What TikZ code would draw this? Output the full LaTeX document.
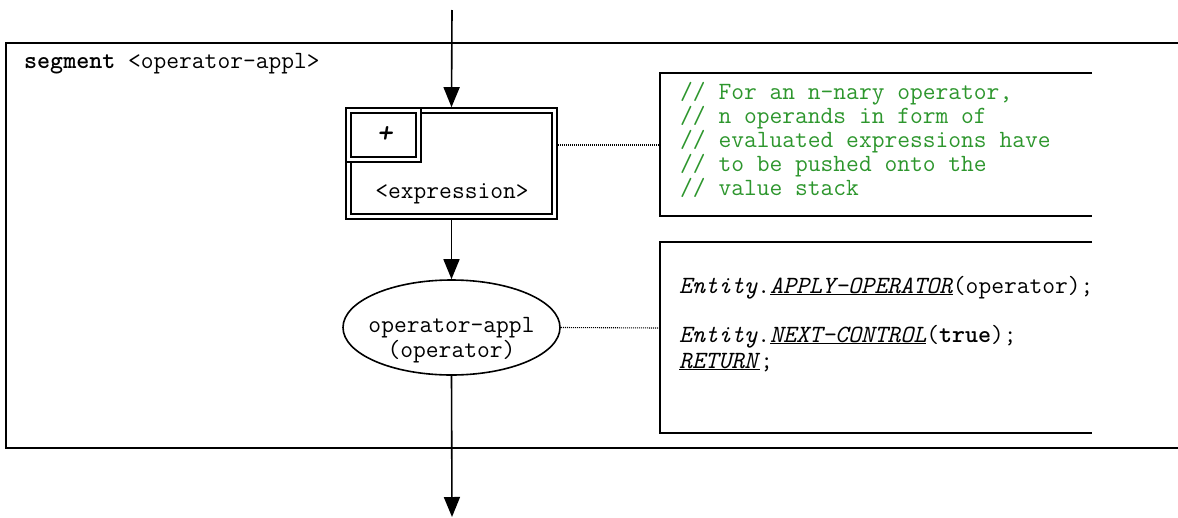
\documentclass[tikz,border=0pt]{standalone}
\usepackage{fontspec}
\usetikzlibrary{arrows.meta,shapes.geometric}
\definecolor{cmtgreen}{RGB}{45,150,45}
\begin{document}
\begin{tikzpicture}[x=1pt,y=-1pt,
  every node/.style={font=\ttfamily\fontsize{24.8}{24.8}\selectfont},
  frame/.style={line width=1.6pt},
  flow/.style={line width=1.6pt,-{Triangle[length=20pt,width=16pt]}},
  dbl/.style={draw,rectangle,double,double distance=3pt,line width=1.8pt,inner sep=0pt,outer sep=3.3pt},
  note/.style={line width=1.1pt,dash pattern=on 1pt off 1pt},
  txt/.style={inner sep=0pt,anchor=base west},
  mid/.style={inner sep=0pt,anchor=base},
  cmt/.style={txt,text=cmtgreen}]
\useasboundingbox (0,0) rectangle (1178,517);
% frame
\draw[frame] (1178,43) -- (6,43) -- (6,448) -- (1178,448);
\node[txt] (seg) at (24,68) {\textbf{segment} <operator-appl>};
% expression box
\node[dbl,minimum width=206pt,minimum height=106pt] (exp) at (451.5,163.5) {};
\node[dbl,minimum width=70.4pt,minimum height=49.4pt] (plus) at (383.5,135) {};
\node[mid] (plustxt) at (385,142) {\fontsize{30}{30}\selectfont\textbf{\textit{+}}};
\node[mid] (exptxt) at (452,198) {<expression>};
% ellipse
\node[draw,ellipse,line width=1.6pt,minimum width=217pt,minimum height=95pt,inner sep=0pt] (op) at (451.5,327.5) {};
\node[mid] (optxt1) at (451.5,332) {operator-appl};
\node[mid] (optxt2) at (451.5,357) {(operator)};
% flow arrows
\coordinate (top) at (452,10);
\coordinate (bot) at (452,517);
\draw[flow] (top) -- (exp.north);
\draw[flow] (exp.south) -- (op.north);
\draw[flow] (op.south) -- (bot);
% comment boxes
\draw[frame] (1092,73) -- (660,73) -- (660,216) -- (1092,216);
\coordinate (c1) at (660,145);
\draw[frame] (1092,242) -- (660,242) -- (660,433) -- (1092,433);
\coordinate (c2) at (660,328);
\draw[note] (exp.east |- c1) -- (c1);
\draw[note] (op.east) -- (c2);
\node[cmt] (l1) at (680,99) {// For an n-nary operator,};
\node[cmt] (l2) at (680,123) {// n operands in form of};
\node[cmt] (l3) at (680,147) {// evaluated expressions have};
\node[cmt] (l4) at (680,171) {// to be pushed onto the};
\node[cmt] (l5) at (680,195) {// value stack};
\node[txt] (m1) at (679,293) {\textit{Entity}.\underline{\textit{APPLY-OPERATOR}}(operator);};
\node[txt] (m2) at (679,342) {\textit{Entity}.\underline{\textit{NEXT-CONTROL}}(\textbf{true});};
\node[txt] (m3) at (679,368) {\underline{\textit{RETURN}};};
\end{tikzpicture}
\end{document}
